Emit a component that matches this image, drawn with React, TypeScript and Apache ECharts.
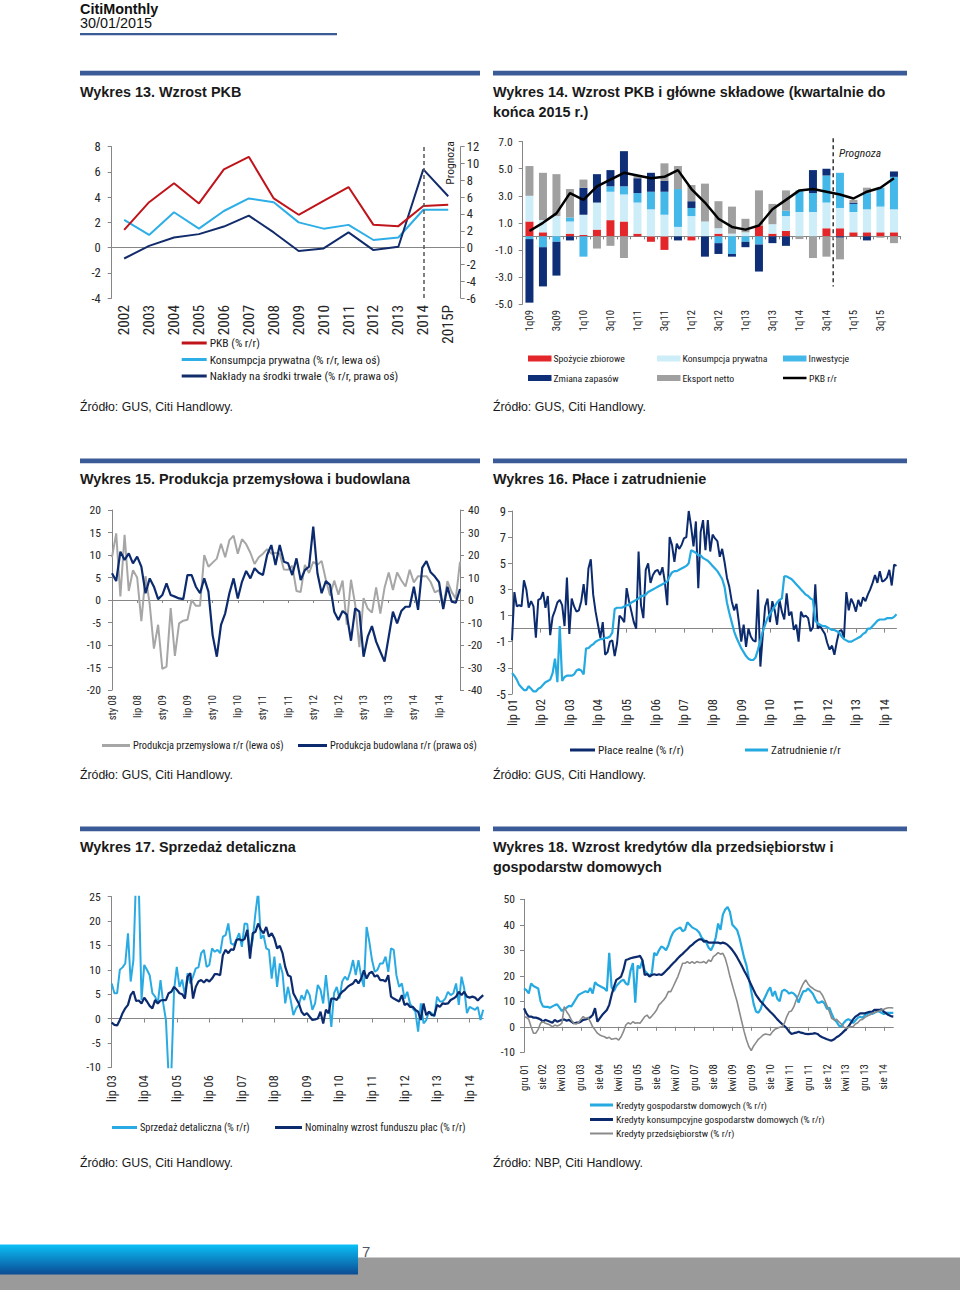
import React, { useEffect, useRef } from "react";
import * as echarts from "echarts";

const MONTHS_PL = ["sty", "lut", "mar", "kwi", "maj", "cze", "lip", "sie", "wrz", "paź", "lis", "gru"];

// ---------- Wykres 13 ----------
const years13 = ["2002", "2003", "2004", "2005", "2006", "2007", "2008", "2009", "2010", "2011", "2012", "2013", "2014", "2015P"];
const gdp13 = [1.4, 3.6, 5.1, 3.5, 6.2, 7.2, 3.9, 2.6, 3.7, 4.8, 1.8, 1.7, 3.3, 3.4];
const cons13 = [2.2, 1.0, 2.8, 1.5, 2.9, 3.9, 3.6, 2.0, 1.5, 1.8, 0.6, 0.8, 3.0, 3.0];
const inv13 = [-1.3, 0.2, 1.2, 1.6, 2.5, 3.8, 1.8, -0.4, -0.1, 1.8, -0.3, 0.1, 9.3, 6.1];
const forecastYear13 = "2014";

// ---------- Wykres 14 ----------
const quarters14 = ["1q09", "2q09", "3q09", "4q09", "1q10", "2q10", "3q10", "4q10", "1q11", "2q11", "3q11", "4q11", "1q12", "2q12", "3q12", "4q12", "1q13", "2q13", "3q13", "4q13", "1q14", "2q14", "3q14", "4q14", "1q15", "2q15", "3q15", "4q15"];
const govCons14 = [1.1, 0.3, 0.0, 0.2, 0.1, 0.5, 1.2, 1.1, 0.2, -0.4, -1.0, 0.0, -0.3, 0.0, 0.2, 0.0, 0.0, 0.8, 0.2, 0.4, 0.0, 0.0, 0.6, 0.6, 0.3, 0.3, 0.3, 0.3];
const privCons14 = [1.9, 0.9, 1.5, 0.9, 1.5, 2.0, 2.1, 2.0, 2.3, 2.0, 1.6, 0.7, 1.5, 1.1, 0.4, 0.2, 0.3, 0.0, 0.7, 1.1, 1.8, 1.8, 1.9, 1.5, 1.5, 1.7, 1.9, 1.7];
const invest14 = [-0.2, -0.8, -0.4, 0.3, -1.5, 0.0, 0.4, 0.6, 0.7, 1.3, 1.7, 2.8, 0.6, 0.0, -0.5, -1.3, -0.4, -0.6, 0.0, 0.4, 1.6, 1.4, 2.0, 2.6, 0.6, 1.2, 1.4, 2.4];
const stocks14 = [-4.7, -2.9, -2.5, -0.3, 2.0, 2.1, 1.2, 2.6, 1.1, 1.4, 0.8, -0.3, 0.5, -1.5, -0.8, -0.2, -0.4, -2.0, -0.5, -0.7, 0.0, 1.7, 0.5, -0.1, 0.1, -0.3, 0.0, 0.4];
const netExp14 = [2.2, 3.5, 3.1, 2.1, 0.6, -0.9, -0.7, -1.6, 0.2, 0.0, 1.3, 1.7, 1.2, 2.8, 2.0, 2.0, 1.0, 2.6, 1.5, 1.5, -0.2, -1.6, -1.5, -1.6, 0.2, 0.4, -0.1, -0.5];
const gdp14 = [0.4, 1.0, 1.7, 3.2, 2.7, 3.7, 4.2, 4.7, 4.5, 4.3, 4.4, 4.9, 3.5, 2.5, 1.3, 0.7, 0.5, 0.8, 2.0, 2.7, 3.4, 3.5, 3.3, 3.1, 2.8, 3.3, 3.6, 4.3];
const forecastStart14 = "4q14";

// ---------- Wykres 15 (sty 08 - gru 14) ----------
const industry15 = [
  9.5, 14.8, 0.8, 14.5, 2.0, 6.6, 5.0, -4.7, 5.3, -1.0, -10.8, -5.5,
  -15.3, -14.8, -1.8, -12.4, -5.2, -4.6, -4.4, 0.0, -1.3, -1.3, 10.0, 7.4,
  8.3, 9.2, 12.5, 9.5, 13.3, 14.3, 10.3, 13.5, 12.4, 10.5, 8.0, 9.5,
  10.3, 11.3, 10.3, 10.5, 10.3, 6.8, 6.7, 7.6, 2.0, 1.8, 7.8, 6.0,
  8.5, 7.8, 8.7, 4.5, 1.0, 4.3, 1.2, 4.3, -5.5, 4.5, -1.0, -10.5,
  0.4, -1.9, -2.8, 2.8, -3.0, 2.7, 6.1, 2.2, 6.1, 4.4, 3.0, 6.7,
  3.9, 5.3, 5.3, 5.3, 4.0, 1.7, 2.2, -1.7, 4.2, 1.8, 0.3, 8.5,
];
const construction15 = [
  11.9, 8.4, 21.5, 17.8, 20.7, 16.3, 19.3, 14.8, 3.0, 9.6, 5.9, 0.4,
  2.2, 7.4, 2.2, 1.5, 0.7, 0.4, 11.1, 11.1, 5.9, 3.0, 9.6, 3.7,
  -15.6, -25.2, -11.1, -5.9, 3.0, 9.6, 0.7, 8.1, 12.9, 9.6, 14.1, 12.1,
  11.1, 20.0, 24.4, 15.6, 24.4, 17.0, 16.3, 11.1, 18.5, 8.9, 13.3, 14.8,
  32.6, 11.9, 3.0, 8.4, 6.7, -5.2, -8.9, -4.9, -6.5, -18.1, -3.7, -5.2,
  -25.2, -16.3, -11.6, -18.5, -23.0, -27.4, -16.3, -5.2, -10.4, -4.9, -3.0, -3.0,
  5.9, -4.4, 14.4, 17.3, 12.3, 10.4, 7.9, -4.0, 5.9, -0.7, -1.2, 4.9,
];

// ---------- Wykres 16 (lip 01 - gru 14) ----------
const realWages16 = [
  -0.9, 2.8, 1.7, 1.8, 1.7, 3.7, 3.0, 1.6, 2.1, 1.7, -0.7, 2.2,
  2.3, 2.8, 1.6, 2.5, -0.5, 0.9, 1.4, 2.0, 2.2, 1.8, 0.2, 3.9,
  -0.4, 2.3, 1.7, 1.3, 1.4, 2.1, 3.4, 1.8, 4.6, 5.3, 2.6, 1.3,
  0.3, -0.7, 0.5, -2.0, -1.8, -1.0, -0.9, -2.1, -1.1, 1.0, 0.8, 0.5,
  3.1, 2.1, 1.3, 0.5, 0.0, 5.9, 1.8, 0.8, 4.5, 5.0, 3.5, 4.1,
  4.4, 4.5, 4.1, 4.7, 3.6, 1.8, 7.0, 6.4, 5.1, 6.5, 6.1, 6.4,
  6.9, 7.0, 9.0, 7.8, 6.3, 8.2, 3.1, 7.4, 8.3, 6.0, 8.3, 5.9,
  7.2, 6.9, 6.7, 5.5, 6.1, 5.1, 3.9, 3.2, 2.1, 1.4, 1.9, 0.5,
  -1.0, 0.3, -1.4, 0.0, -0.6, -0.9, -1.0, 3.0, -2.9, -0.5, 1.7, 2.3,
  0.5, 2.1, 1.4, 0.3, 2.2, 1.3, 0.7, 2.7, 1.0, 1.3, -0.1, 0.3,
  -1.0, 1.3, 0.9, 1.0, 0.8, -0.2, 0.1, 3.4, 0.0, 0.2, -0.1, -0.4,
  -1.1, -1.6, -1.3, -2.0, -1.0, -0.2, -0.1, -0.7, 2.8, 1.4, 2.3, 1.9,
  1.3, 2.2, 1.7, 2.4, 2.1, 2.6, 3.0, 3.5, 4.1, 3.5, 4.4, 3.6,
  3.7, 3.9, 4.5, 3.3, 4.9, 4.8,
];
const employment16 = [
  -3.4, -3.6, -3.9, -4.3, -4.5, -4.7,
  -4.7, -4.4, -4.6, -4.8, -4.8, -4.6, -4.5, -4.3, -4.1, -4.0, -3.9, -3.4,
  -2.3, -4.1, 0.2, -4.0, -3.7, -3.6, -3.6, -3.6, -3.5, -3.2, -3.1, -3.2,
  -3.5, -1.5, -1.5, -1.3, -1.2, -1.0, -0.9, -0.8, -0.8, -0.7, -0.7, -0.6,
  -0.3, 1.5, 1.6, 1.6, 1.6, 1.7, 1.8, 1.8, 2.0, 2.1, 2.2, 2.3,
  2.5, 2.5, 2.6, 2.8, 2.9, 3.0, 3.1, 3.2, 3.3, 3.4, 3.5, 3.6,
  4.0, 4.3, 4.4, 4.4, 4.5, 4.6, 4.7, 4.8, 5.0, 6.0, 5.9, 5.8,
  5.6, 5.6, 5.4, 5.3, 5.2, 5.0, 4.8, 4.6, 4.4, 4.1, 3.8, 3.2,
  2.0, 1.2, 0.5, -0.2, -0.7, -1.1, -1.5, -1.8, -2.1, -2.3, -2.4, -2.4,
  -2.2, -1.6, -0.9, -0.2, 0.3, 0.8, 1.1, 1.4, 1.7, 2.0, 2.2, 2.3,
  4.0, 4.0, 3.9, 3.8, 3.6, 3.4, 3.2, 3.0, 2.8, 2.6, 2.5, 2.3,
  2.2, 0.6, 0.4, 0.3, 0.2, 0.2, 0.1, 0.0, -0.1, -0.1, -0.2, -0.3,
  -0.6, -0.8, -0.9, -1.0, -1.0, -0.9, -0.8, -0.7, -0.6, -0.4, -0.3, 0.0,
  0.0, 0.2, 0.4, 0.6, 0.7, 0.7, 0.7, 0.8, 0.8, 0.8, 0.9, 1.1,
];

// ---------- Wykres 17 (lip 03 - gru 14) ----------
const retail17 = [
  7.2, 5.2, 5.2, 10.0, 10.5, 11.3, 17.5, 7.6, 12.0, 29.5, 27, 3.8,
  11.0, 10.0, 8.9, 5.2, 4.5, 3.1, 7.9, 3.1, -0.3, -12, -11, 5.9,
  10.6, 6.5, 8.0, 4.8, 9.3, 7.2, 8.6, 10.3, 10.5, 13.4, 14.1, 10.6,
  11.0, 14.4, 13.7, 14.1, 13.4, 16.8, 17.1, 19.5, 15.4, 15.1, 16.2, 17.5,
  14.7, 19.5, 19.4, 13.7, 16.1, 21.6, 26, 16.4, 17.1, 14.4, 14.1, 8.2,
  12.7, 6.5, 11.3, 9.3, 3.1, 6.5, 3.8, 0.7, 2.1, 2.8, 4.8, 3.8,
  5.9, 4.8, 1.8, 3.1, 6.9, 5.9, 3.1, 8.9, 3.8, -1.7, 5.2, 6.5,
  4.1, 7.6, 8.6, 7.9, 9.6, 12.0, 8.9, 12.0, 8.6, 6.5, 18.8, 15.8,
  12.0, 9.6, 10.0, 11.3, 11.3, 12.7, 9.6, 14.4, 14.1, 8.9, 6.5, 7.2,
  4.1, 5.5, 3.1, 2.1, 1.4, -2.7, 3.1, -1.0, -0.3, 1.4, 1.1, 0.4,
  4.5, 3.5, 3.5, 4.1, 5.5, 4.8, 5.2, 7.2, 2.8, 8.6, 6.2, 1.1,
  2.4, 2.1, 1.8, 2.4, -0.3, 1.8,
];
const wageFund17 = [
  -0.8, -1.3, -1.4, -0.3, 1.1, 2.1, 2.8, 4.8, 5.6, 3.6, 3.7, 3.1,
  4.3, 3.5, 2.6, 2.1, 3.8, 3.1, 3.7, 3.8, 3.8, 5.2, 5.5, 6.5,
  5.9, 5.2, 5.0, 4.1, 8.6, 9.3, 4.1, 6.5, 7.6, 7.9, 7.4, 8.0,
  7.6, 8.2, 9.1, 9.1, 8.9, 13.0, 14.1, 13.4, 14.2, 14.1, 16.1, 16.3,
  16.0, 16.3, 18.2, 12.3, 17.5, 17.8, 19.5, 18.2, 17.5, 18.8, 16.8, 17.5,
  16.4, 14.4, 14.9, 13.4, 10.6, 8.9, 8.6, 5.2, 4.1, 3.1, 1.4, 0.7,
  1.1, 0.4, -0.3, -0.2, 0.0, 1.4, -1.0, 1.8, 1.1, 4.1, 4.1, 3.8,
  4.8, 5.5, 5.9, 6.5, 6.9, 7.2, 8.0, 7.2, 8.2, 9.9, 8.2, 9.3,
  9.6, 8.6, 8.9, 7.9, 7.9, 7.6, 8.9, 4.5, 4.1, 3.8, 3.5, 4.8,
  2.8, 3.1, 2.4, 2.4, 1.8, 1.4, -0.3, 3.1, 0.7, 1.4, 0.7, 0.7,
  2.8, 2.4, 3.1, 3.0, 3.1, 3.8, 4.1, 4.5, 5.5, 4.8, 5.5, 4.5,
  4.3, 4.5, 4.3, 3.7, 4.3, 4.8,
];

// ---------- Wykres 18 (gru 01 - gru 14) ----------
const householdLoans18 = [
  15.1, 14.4, 13.1, 17, 16, 15.5, 15, 10, 8, 7.8, 7.8, 7.5,
  8, 8.5, 8.8, 7.5, 6.2, 7, 7.5, 8.2, 8, 9.5, 11, 12.5,
  13, 13.5, 14, 13.5, 15.2, 13, 17.5, 16.5, 16, 15.5, 15, 14,
  29, 15.5, 14, 16, 17, 18, 18.5, 17, 16.5, 22, 25, 9.5,
  24, 23, 26, 22, 21, 20, 21, 29, 28, 30, 31.5, 31,
  30, 32, 35, 37, 38, 38.5, 39, 37.5, 38, 41, 40, 39,
  38.5, 38, 37, 35, 34, 33, 31, 30, 32, 35, 40.5, 38,
  44, 46, 47, 45, 40, 39, 38, 35, 31, 27, 24, 19,
  14, 9, 6, 5.5, 7, 10, 12, 14, 15.5, 12, 14, 11,
  10, 14, 14.5, 14, 13, 13.5, 13, 12, 9.5, 12, 14, 14,
  15, 14, 13, 11, 9.5, 9.5, 10, 9, 7, 7.5, 5, 3,
  2, 0.5, 0, 1.5, 2.5, 3, 2.5, 1.5, 2.5, 3.5, 4, 3.5,
  4.5, 5, 5.5, 5, 5.5, 6, 6, 5.5, 5, 5.5, 5.5, 5.5,
  5.5,
];
const consumerLoans18 = [
  7.3, 5.3, 4, 4, 3.6, 3.6, 3.3, 2.9, 2, 2.7, 2.4, 2,
  1.6, 2.7, 2, 2.4, 2.7, 2.9, 2.4, 2.7, 2, 1.4, 1.6, 1.6,
  2, 2.7, 2.9, 3.3, 3.7, 4.6, 7.3, 2, 3.3, 4.6, 5.6, 6.6,
  8.6, 12.5, 15.7, 18.4, 19, 19.7, 22.3, 26.2, 26.5, 26.9, 27.1, 27.3,
  27.5, 27.8, 26.2, 20.3, 20.7, 19.7, 20.3, 20.6, 20.3, 20.6, 20.3, 21,
  22, 22.9, 23.9, 24.9, 25.8, 26.9, 27.8, 28.6, 29.5, 30.4, 31.4, 32.1,
  33, 33.7, 34.3, 34.3, 33.4, 33.7, 33, 33, 33, 33, 33, 32.7,
  33, 32.7, 32.1, 31.2, 30.1, 28.8, 27.3, 25.6, 23.9, 22, 20.3, 18.4,
  16.4, 14.4, 12.5, 11.2, 9.9, 9, 7.9, 6.9, 5.9, 5, 4, 2.9,
  2, 1.1, 0.3, -0.6, -1.9, -2.8, -2.5, -2.3, -1.9, -2.3, -2.5, -2.8,
  -2.9, -2.8, -2.7, -2.5, -2.8, -3.6, -4.1, -4.5, -4.9, -5.2, -5.4, -4.9,
  -4.1, -3.6, -2.8, -1.9, -1, 0, 1.4, 2.9, 4, 4.6, 5.3, 5.3,
  5.3, 5.6, 5.9, 5.9, 6.6, 6.6, 6.6, 6.9, 5.9, 5.3, 4.6, 4.2,
  4,
];
const corporateLoans18 = [
  4, 3.7, 2.9, 0, -2.5, -2.5, -1, 1.4, 2, 1.4, 1.1, 0.7,
  0, 0.7, 0.3, 0.7, 1.4, 7.9, 5.9, 4.6, 2.7, 1.4, 1.1, 1.6,
  2.9, 4, 3.3, 3.7, 2, 0, -1.2, -2.5, -3.2, -3.6, -3.9, -4.5,
  -4.1, -4.9, -4.7, -4.5, -5.2, -3.9, -1.9, 0.7, 1.6, 1.1, 2, 1.4,
  1.6, 1.4, 2.7, 4, 4.6, 3.3, 4.2, 5.3, 6.6, 8.6, 9.5, 10.5,
  11.8, 13.8, 13.8, 15.7, 17.7, 19.7, 22.3, 24.9, 24.9, 25.6, 24.9, 25.6,
  24.9, 25.6, 25.2, 25.2, 25.6, 24.9, 26.2, 25.6, 27.5, 28.2, 29.1, 28.5,
  28.8, 26.9, 23.6, 19.7, 16.4, 13.1, 9.9, 5.9, 2, -1.9, -5.2, -7.8,
  -9.3, -7.5, -6.2, -4.9, -4.1, -3.2, -2.8, -3.0, -3.2, -1.9, -1, -0.6,
  -0.2, 0, 1.4, 4, 5.9, 6.2, 7.9, 10.5, 12.5, 15.1, 17, 18.4,
  16.8, 15.7, 15.1, 14.4, 14.0, 13.8, 12.5, 10.5, 8.2, 5.9, 3.3, 2.7,
  2.9, 2, 1.1, 0, -0.6, -0.2, 0, 0, 1.1, 1.6, 2.7, 2.9,
  3.7, 4.2, 4.6, 5.3, 5.6, 5.9, 6.2, 6.6, 6.9, 7.3, 7.5, 7.5,
  7.4,
];

function monthLabels(startYear: number, startMonth: number, count: number): string[] {
  const out: string[] = [];
  for (let k = 0; k < count; k++) {
    const m = (startMonth + k) % 12;
    const y = startYear + Math.floor((startMonth + k) / 12);
    out.push(MONTHS_PL[m] + " " + String(y % 100).padStart(2, "0"));
  }
  return out;
}

const months15 = monthLabels(2008, 0, Math.max(industry15.length, construction15.length));
const months16 = monthLabels(2001, 6, Math.max(realWages16.length, employment16.length));
const months17 = monthLabels(2003, 6, Math.max(retail17.length, wageFund17.length));
const months18 = monthLabels(2001, 11, Math.max(householdLoans18.length, consumerLoans18.length, corporateLoans18.length));

const AXIS = "#868686";
const LBL = "#262626";
const NAVY = "#0c2b6e";
const LIGHT = "#25a9e1";
const SECTION = "#3b5a98";
const RF = '"Liberation Sans", Arial, sans-serif';
const NF = '"Roboto Condensed", "Liberation Sans", sans-serif';
const k = 0.93; // size factor for the condensed face

export default function App() {
  const ref = useRef<HTMLDivElement>(null);

  useEffect(() => {
    const el = ref.current;
    if (!el) return;
    const chart = echarts.init(el, null, { renderer: "svg" });

    const yAx = (gridIndex: number, min: number, max: number, interval: number, fs: number, margin: number, position = "left", fmt?: any) => ({
      type: "value", gridIndex, min, max, interval, position,
      axisLine: { show: true, lineStyle: { color: AXIS, width: 1 } },
      axisTick: { show: true, length: 4, lineStyle: { color: AXIS } },
      splitLine: { show: false },
      axisLabel: { fontSize: fs * k, fontFamily: NF, color: LBL, margin, formatter: fmt },
    });
    const xLab = (gridIndex: number, data: string[], interval: number, fs: number, margin: number, boundaryGap: boolean) => ({
      type: "category", gridIndex, data, boundaryGap, position: "bottom",
      axisLine: { show: false, onZero: false },
      axisTick: { show: false },
      splitLine: { show: false },
      axisLabel: { interval, rotate: 90, fontSize: fs * k, fontFamily: NF, color: LBL, margin },
    });
    const xZero = (gridIndex: number, data: string[], boundaryGap: boolean, tickInterval: number | null, tickLen = 3) => ({
      type: "category", gridIndex, data, boundaryGap, position: "bottom",
      axisLine: { show: true, onZero: true, lineStyle: { color: AXIS, width: 1 } },
      axisTick: tickInterval === null ? { show: false } : { show: true, interval: tickInterval, length: tickLen, lineStyle: { color: AXIS } },
      axisLabel: { show: false },
      splitLine: { show: false },
    });
    const line = (name: string, xAxisIndex: number, yAxisIndex: number, data: number[], color: string, width: number, extra: any = {}) => ({
      type: "line", name, xAxisIndex, yAxisIndex, data, symbol: "none", silent: true,
      lineStyle: { color, width }, itemStyle: { color }, ...extra,
    });
    const bar = (name: string, data: number[], color: string) => ({
      type: "bar", name, xAxisIndex: 2, yAxisIndex: 2, stack: "gdp14", data, barWidth: 8, silent: true,
      itemStyle: { color },
    });

    const option: any = {
      animation: false,
      textStyle: { fontFamily: RF },
      grid: [
        { left: 111.7, top: 146.7, width: 349, height: 151.3 },
        { left: 522.7, top: 141.7, width: 378, height: 162.3 },
        { left: 112, top: 510, width: 348, height: 180 },
        { left: 512, top: 511, width: 384.5, height: 183 },
        { left: 111.7, top: 896.7, width: 371.5, height: 170.6 },
        { left: 524, top: 899.3, width: 369.3, height: 153 },
      ],
      xAxis: [
        xLab(0, years13, 0, 16.5, 7, true),
        xZero(0, years13, true, null),
        xLab(1, quarters14, 1, 11.5, 6, true),
        xZero(1, quarters14, true, 0, 3),
        xLab(2, months15, 5, 11.4, 5, false),
        xZero(2, months15, false, 5, 3),
        xLab(3, months16, 11, 13.4, 5, false),
        xZero(3, months16, false, 11, 4),
        xLab(4, months17, 11, 13.2, 8, false),
        xZero(4, months17, false, 11, 4),
        xLab(5, months18, 7, 11.5, 12, false),
        xZero(5, months18, false, 7, 4),
      ],
      yAxis: [
        yAx(0, -4, 8, 2, 13.5, 11),
        yAx(0, -6, 12, 2, 13.5, 6, "right"),
        yAx(1, -5, 7, 2, 12.5, 10, "left", (v: number) => v.toFixed(1)),
        yAx(2, -20, 20, 5, 12.5, 11),
        yAx(2, -40, 40, 10, 12.5, 8, "right"),
        yAx(3, -5, 9, 2, 13.5, 6),
        yAx(4, -10, 25, 5, 12.5, 11),
        yAx(5, -10, 50, 10, 12.5, 9),
      ],
      series: [
        // 13
        line("Konsumpcja prywatna (% r/r, lewa oś)", 0, 0, cons13, "#2eaee6", 2),
        line("Nakłady na środki trwałe (% r/r, prawa oś)", 0, 1, inv13, "#122c6b", 2),
        line("PKB (% r/r)", 0, 0, gdp13, "#c0141b", 2, {
          markLine: {
            silent: true, symbol: ["none", "none"], label: { show: false },
            lineStyle: { color: "#555", type: [4, 3], width: 1.5 },
            data: [{ xAxis: forecastYear13 }],
          },
        }),
        // 14
        bar("Spożycie zbiorowe", govCons14, "#e3262a"),
        bar("Konsumpcja prywatna", privCons14, "#cdeef9"),
        bar("Inwestycje", invest14, "#45b8ea"),
        bar("Zmiana zapasów", stocks14, "#0e2f78"),
        bar("Eksport netto", netExp14, "#a0a0a0"),
        line("PKB r/r", 2, 2, gdp14, "#000000", 2.5, { z: 5 }),
        // 15
        line("Produkcja przemysłowa r/r (lewa oś)", 4, 3, industry15, "#a6a6a6", 2),
        line("Produkcja budowlana r/r (prawa oś)", 4, 4, construction15, NAVY, 2.2),
        // 16
        line("Płace realne (% r/r)", 6, 5, realWages16, NAVY, 2),
        line("Zatrudnienie r/r", 6, 5, employment16, LIGHT, 2.2),
        // 17
        line("Sprzedaż detaliczna (% r/r)", 8, 6, retail17, "#2aaae2", 2),
        line("Nominalny wzrost funduszu płac (% r/r)", 8, 6, wageFund17, NAVY, 2.2),
        // 18
        line("Kredyty gospodarstw domowych (% r/r)", 10, 7, householdLoans18, LIGHT, 2.2),
        line("Kredyty konsumpcyjne gospodarstw domowych (% r/r)", 10, 7, consumerLoans18, NAVY, 2.2),
        line("Kredyty przedsiębiorstw (% r/r)", 10, 7, corporateLoans18, "#8a8a8a", 1.6),
      ],
    };

    chart.setOption(option);

    // ---------- graphic (page texts, legends, decorations) ----------
    const txt = (x: number, y: number, text: string, size: number, o: any = {}) => ({
      type: "text", x, y, silent: true, rotation: o.rotation || 0,
      style: {
        text, fontSize: size, fontFamily: o.family || RF, fontWeight: o.weight || "normal",
        fontStyle: o.fontStyle || "normal", fill: o.color || "#1a1a1a",
        align: o.align || "left", verticalAlign: "middle",
      },
    });
    const seg = (x1: number, y1: number, x2: number, y2: number, stroke: string, lineWidth: number, dash?: number[]) => ({
      type: "line", silent: true, shape: { x1, y1, x2, y2 },
      style: { stroke, lineWidth, lineDash: dash || null },
    });
    const rect = (x: number, y: number, width: number, height: number, fill: any) => ({
      type: "rect", silent: true, shape: { x, y, width, height }, style: { fill },
    });
    const legLine = (x: number, y: number, len: number, color: string, label: string, fs: number, w = 3) => [
      seg(x, y, x + len, y, color, w),
      txt(x + len + 3, y, label, fs * k, { family: NF }),
    ];
    const legRect = (x: number, y: number, color: string, label: string) => [
      rect(x, y - 3, 23.5, 6, color),
      txt(x + 25.5, y, label, 10.5 * k, { family: NF }),
    ];

    const TITLE = 14.4;
    const SRC = 12.3;
    const elements: any[] = [
      // header
      txt(80, 8.5, "CitiMonthly", TITLE, { weight: "bold", color: "#111" }),
      txt(80, 23, "30/01/2015", TITLE, { color: "#111" }),
      rect(80, 33, 257, 2.2, SECTION),
      // section rules
      rect(80, 70.8, 400, 4.6, SECTION), rect(493, 70.8, 414, 4.6, SECTION),
      rect(80, 458.6, 400, 4.6, SECTION), rect(493, 458.6, 414, 4.6, SECTION),
      rect(80, 826.6, 400, 4.6, SECTION), rect(493, 826.6, 414, 4.6, SECTION),
      // titles
      txt(80, 92, "Wykres 13. Wzrost PKB", TITLE, { weight: "bold" }),
      txt(493, 92, "Wykres 14. Wzrost PKB i główne składowe (kwartalnie do", TITLE, { weight: "bold" }),
      txt(493, 112, "końca 2015 r.)", TITLE, { weight: "bold" }),
      txt(80, 479, "Wykres 15. Produkcja przemysłowa i budowlana", TITLE, { weight: "bold" }),
      txt(493, 479, "Wykres 16. Płace i zatrudnienie", TITLE, { weight: "bold" }),
      txt(80, 847, "Wykres 17. Sprzedaż detaliczna", TITLE, { weight: "bold" }),
      txt(493, 847, "Wykres 18. Wzrost kredytów dla przedsiębiorstw i", TITLE, { weight: "bold" }),
      txt(493, 867, "gospodarstw domowych", TITLE, { weight: "bold" }),
      // sources
      txt(80, 406.5, "Źródło: GUS, Citi Handlowy.", SRC),
      txt(493, 406.5, "Źródło: GUS, Citi Handlowy.", SRC),
      txt(80, 774.5, "Źródło: GUS, Citi Handlowy.", SRC),
      txt(493, 774.5, "Źródło: GUS, Citi Handlowy.", SRC),
      txt(80, 1162.5, "Źródło: GUS, Citi Handlowy.", SRC),
      txt(493, 1162.5, "Źródło: NBP, Citi Handlowy.", SRC),
      // chart 13 extras
      txt(450, 163, "Prognoza", 12.5 * k, { family: NF, rotation: Math.PI / 2, align: "center", color: "#222" }),
      ...legLine(181.7, 343, 25, "#c0141b", "PKB (% r/r)", 12.4),
      ...legLine(181.7, 359.5, 25, "#2eaee6", "Konsumpcja prywatna (% r/r, lewa oś)", 12.4),
      ...legLine(181.7, 376, 25, "#122c6b", "Nakłady na środki trwałe (% r/r, prawa oś)", 12.4),
      // chart 14 extras
      txt(839, 153, "Prognoza", 12.5 * k, { family: NF, fontStyle: "italic", color: "#222" }),
      ...legRect(528, 358.5, "#e3262a", "Spożycie zbiorowe"),
      ...legRect(657, 358.5, "#cdeef9", "Konsumpcja prywatna"),
      ...legRect(783, 358.5, "#45b8ea", "Inwestycje"),
      ...legRect(528, 378, "#0e2f78", "Zmiana zapasów"),
      ...legRect(657, 378, "#a0a0a0", "Eksport netto"),
      seg(783, 378, 806.5, 378, "#000", 2.5),
      txt(809, 378, "PKB r/r", 10.5 * k, { family: NF }),
      // chart 15 legend
      ...legLine(102, 745.5, 28, "#a6a6a6", "Produkcja przemysłowa r/r (lewa oś)", 11.2),
      ...legLine(298, 745.5, 29, NAVY, "Produkcja budowlana r/r (prawa oś)", 11.2),
      // chart 16 legend
      ...legLine(570, 750, 25, NAVY, "Płace realne (% r/r)", 12.2),
      ...legLine(745, 750, 23, LIGHT, "Zatrudnienie r/r", 12.2),
      // chart 17 legend
      ...legLine(112, 1127.5, 25, "#2aaae2", "Sprzedaż detaliczna (% r/r)", 11.1),
      ...legLine(275, 1127.5, 27, NAVY, "Nominalny wzrost funduszu płac (% r/r)", 11.1),
      // chart 18 legend
      ...legLine(590, 1105, 23, LIGHT, "Kredyty gospodarstw domowych (% r/r)", 10.5),
      ...legLine(590, 1119.5, 23, NAVY, "Kredyty konsumpcyjne gospodarstw domowych (% r/r)", 10.5),
      ...legLine(590, 1133.5, 23, "#8a8a8a", "Kredyty przedsiębiorstw (% r/r)", 10.5, 2),
      // footer
      rect(0, 1257.5, 960, 32.5, "#9a9a9a"),
      rect(0, 1244.5, 358, 30, new echarts.graphic.LinearGradient(0, 0, 0, 1, [
        { offset: 0, color: "#0bc0f6" },
        { offset: 1, color: "#0b4b94" },
      ])),
      txt(362, 1251, "7", 15, { color: "#505868" }),
    ];

    // forecast divider for chart 14, placed between the last actual and first forecast quarter
    const fIdx = quarters14.indexOf(forecastStart14);
    const xa = chart.convertToPixel({ xAxisIndex: 2 } as any, fIdx - 1) as any;
    const xb = chart.convertToPixel({ xAxisIndex: 2 } as any, fIdx) as any;
    const yTop = chart.convertToPixel({ yAxisIndex: 2 } as any, 7.25) as any;
    const yBot = chart.convertToPixel({ yAxisIndex: 2 } as any, -3.7) as any;
    if (typeof xa === "number" && typeof xb === "number") {
      const xm = (xa + xb) / 2;
      elements.push(seg(xm, yTop, xm, yBot, "#333", 1.5, [4, 3]));
    }

    chart.setOption({ graphic: [{ elements }] });

    return () => chart.dispose();
  }, []);

  return <div ref={ref} style={{ position: "absolute", left: 0, top: 0, width: 960, height: 1290, background: "#fff" }} />;
}
